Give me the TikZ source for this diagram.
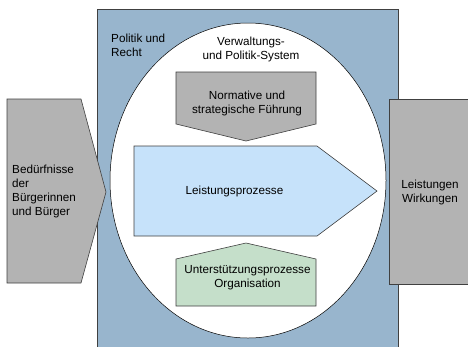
\documentclass[tikz,border=0pt]{standalone}
\usepackage{fontspec}
\setmainfont{Liberation Sans}
\definecolor{rechtblue}{RGB}{152,181,205}
\definecolor{prozessgray}{RGB}{179,179,179}
\definecolor{leistungblue}{RGB}{198,226,250}
\definecolor{stuetzgreen}{RGB}{197,223,202}
\begin{document}
\begin{tikzpicture}[x=1pt,y=-1pt,
    box/.style={draw=black!75,line width=.6pt},
    txt/.style={font=\fontsize{11.7}{14}\selectfont,inner sep=0pt}]
  \useasboundingbox (0,0) rectangle (468,346);
  \clip (0,0) rectangle (468,346);
  % Politik und Recht
  \draw[box,fill=rechtblue] (97,9) rectangle (398,350);
  \node[txt,align=left,anchor=west] (politik) at (111,45) {Politik und\\Recht};
  % Verwaltungs- und Politik-System
  \draw[black,line width=.5pt,fill=white] (248,180.5) ellipse [x radius=138, y radius=157.5];
  \node[txt,align=center] (verwaltung) at (251,49.5) {Verwaltungs-\\und Politik-System};
  % Fuehrung, Leistung, Unterstuetzung
  \draw[box,fill=prozessgray] (176,72) -- (316,72) -- (316,124) -- (246,141) -- (176,124) -- cycle;
  \node[txt,align=center] (fuehrung) at (247,103) {Normative und\\strategische Führung};
  \draw[box,fill=leistungblue] (134,146) -- (317,146) -- (377,191) -- (317,236) -- (134,236) -- cycle;
  \node[txt] (leistung) at (234.5,191) {Leistungsprozesse};
  \draw[box,fill=stuetzgreen] (176,259) -- (246,243) -- (316,259) -- (316,306) -- (176,306) -- cycle;
  \node[txt,align=center] (unterstuetzung) at (247.5,278) {Unterstützungsprozesse\\Organisation};
  % Input und Output
  \draw[box,fill=prozessgray] (7,99) -- (81,99) -- (106,192) -- (81,283) -- (7,283) -- cycle;
  \node[txt,align=left,anchor=west] (beduerfnisse) at (12,191) {Bedürfnisse\\der\\Bürgerinnen\\und Bürger};
  \draw[box,fill=prozessgray] (389,99) rectangle (472,284);
  \node[txt,align=center] (wirkungen) at (430,192.5) {Leistungen\\Wirkungen};
\end{tikzpicture}
\end{document}
